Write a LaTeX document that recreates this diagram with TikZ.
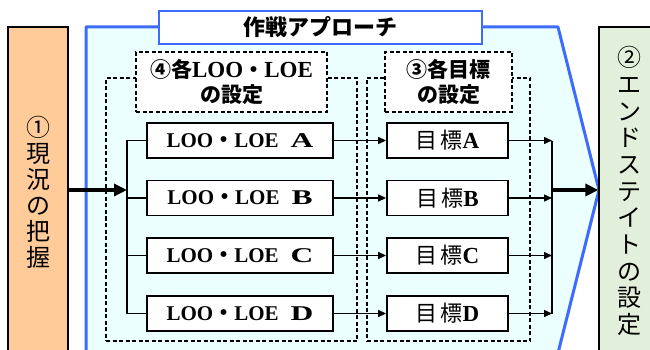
\documentclass[tikz,border=0pt]{standalone}
\usepackage{fontspec}
\setmainfont{Liberation Serif}
\newfontfamily\jp{Noto Sans CJK JP}
\newfontfamily\latw[FakeStretch=1.5]{Liberation Serif}
\usetikzlibrary{arrows.meta}
\definecolor{orangefill}{HTML}{FFCC99}
\definecolor{greenfill}{HTML}{E2EFDA}
\definecolor{cyanfill}{HTML}{EBFFFF}
\definecolor{blueline}{HTML}{3D6BFF}
\tikzset{
  box/.style={draw, line width=1.8pt, fill=white, inner sep=0pt, minimum height=35pt},
  loobox/.style={box, minimum width=186pt, font=\bfseries\fontsize{21}{26}\selectfont},
  goalbox/.style={box, minimum width=121pt, font=\fontsize{22}{26}\selectfont},
  dashbox/.style={draw, line width=1.2pt, dash pattern=on 4pt off 2.5pt, inner sep=0pt},
  labelbox/.style={dashbox, fill=white, minimum height=60pt, align=center,
     font=\bfseries\fontsize{21}{25}\selectfont},
  sidebox/.style={draw, line width=1.2pt, inner sep=0pt, minimum width=60pt, align=center},
  conn/.style={line width=1.4pt},
  arr/.style={conn, -{Triangle[length=8pt,width=7pt]}},
  bigarr/.style={line width=3.5pt, -{Triangle[length=13pt,width=12pt]}},
}
\begin{document}
\begin{tikzpicture}[x=1pt,y=-1pt]
\useasboundingbox (0,0) rectangle (650,350);
\clip (0,0) rectangle (650,350);
% approach area
\draw[blueline, line width=3pt, line join=round, fill=cyanfill]
  (86,365) -- (86,27) -- (558,27) -- (599,190) -- (555,365) -- cycle;
% side boxes
\node[sidebox, fill=orangefill, minimum height=330pt,
      font=\jp\fontsize{24}{26}\selectfont] (cur) at (38,192)
  {①\\現\\況\\の\\把\\握};
\node[sidebox, fill=greenfill, minimum height=328pt,
      font=\jp\fontsize{24}{26.7}\selectfont] (endst) at (629,191)
  {②\\エ\\ン\\ド\\ス\\テ\\イ\\ト\\の\\設\\定};
% title
\node[draw=blueline, line width=2.5pt, fill=white, minimum width=323pt,
      minimum height=33pt, inner sep=0pt,
      font=\jp\bfseries\fontsize{22}{26}\selectfont] (title) at (320.5,27.5)
  {作戦アプローチ};
% dashed groups
\node[dashbox, minimum width=251pt, minimum height=263pt] (grpL) at (231.5,209.5) {};
\node[dashbox, minimum width=163pt, minimum height=263pt] (grpR) at (448.5,209.5) {};
\node[labelbox, minimum width=191pt] (labL) at (231.5,82)
  {{\jp ④各}{\fontsize{23}{25}\selectfont LOO}{\jp ・}{\fontsize{23}{25}\selectfont LOE}\\{\jp の設定}};
\node[labelbox, minimum width=127pt] (labR) at (448.5,82)
  {{\jp ③各目標}\\{\jp の設定}};
% boxes
\node[loobox] (la) at (240,140.5) {LOO{\jp ・}LOE\hspace{12pt}{\latw A}};
\node[loobox] (lb) at (240,198) {LOO{\jp ・}LOE\hspace{12pt}{\latw B}};
\node[loobox] (lc) at (240,255.5) {LOO{\jp ・}LOE\hspace{12pt}{\latw C}};
\node[loobox] (ld) at (240,313.5) {LOO{\jp ・}LOE\hspace{12pt}{\latw D}};
\node[goalbox] (ga) at (447.5,140.5) {{\jp 目\hspace{3pt}標}{\bfseries\fontsize{23}{26}\selectfont A}};
\node[goalbox] (gb) at (447.5,198) {{\jp 目\hspace{3pt}標}{\bfseries\fontsize{23}{26}\selectfont B}};
\node[goalbox] (gc) at (447.5,255.5) {{\jp 目\hspace{3pt}標}{\bfseries\fontsize{23}{26}\selectfont C}};
\node[goalbox] (gd) at (447.5,313.5) {{\jp 目\hspace{3pt}標}{\bfseries\fontsize{23}{26}\selectfont D}};
% buses
\coordinate (busL) at (127,190);
\coordinate (busR) at (552,190);
\draw[conn] (la.west) -- (la.west -| busL) -- (ld.west -| busL) -- (ld.west);
\draw[conn] (lb.west) -- (lb.west -| busL);
\draw[conn] (lc.west) -- (lc.west -| busL);
\draw[bigarr] (cur.east |- busL) -- (busL);
\draw[arr] (la.east) -- (ga.west);
\draw[arr] (lb.east) -- (gb.west);
\draw[arr] (lc.east) -- (gc.west);
\draw[arr] (ld.east) -- (gd.west);
\draw[arr] (ga.east) -- (ga.east -| busR);
\draw[arr] (gb.east) -- (gb.east -| busR);
\draw[arr] (gc.east) -- (gc.east -| busR);
\draw[arr] (gd.east) -- (gd.east -| busR);
\draw[conn] (ga.east -| busR) -- (gd.east -| busR);
\draw[bigarr] (busR) -- (endst.west |- busR);
\end{tikzpicture}
\end{document}
